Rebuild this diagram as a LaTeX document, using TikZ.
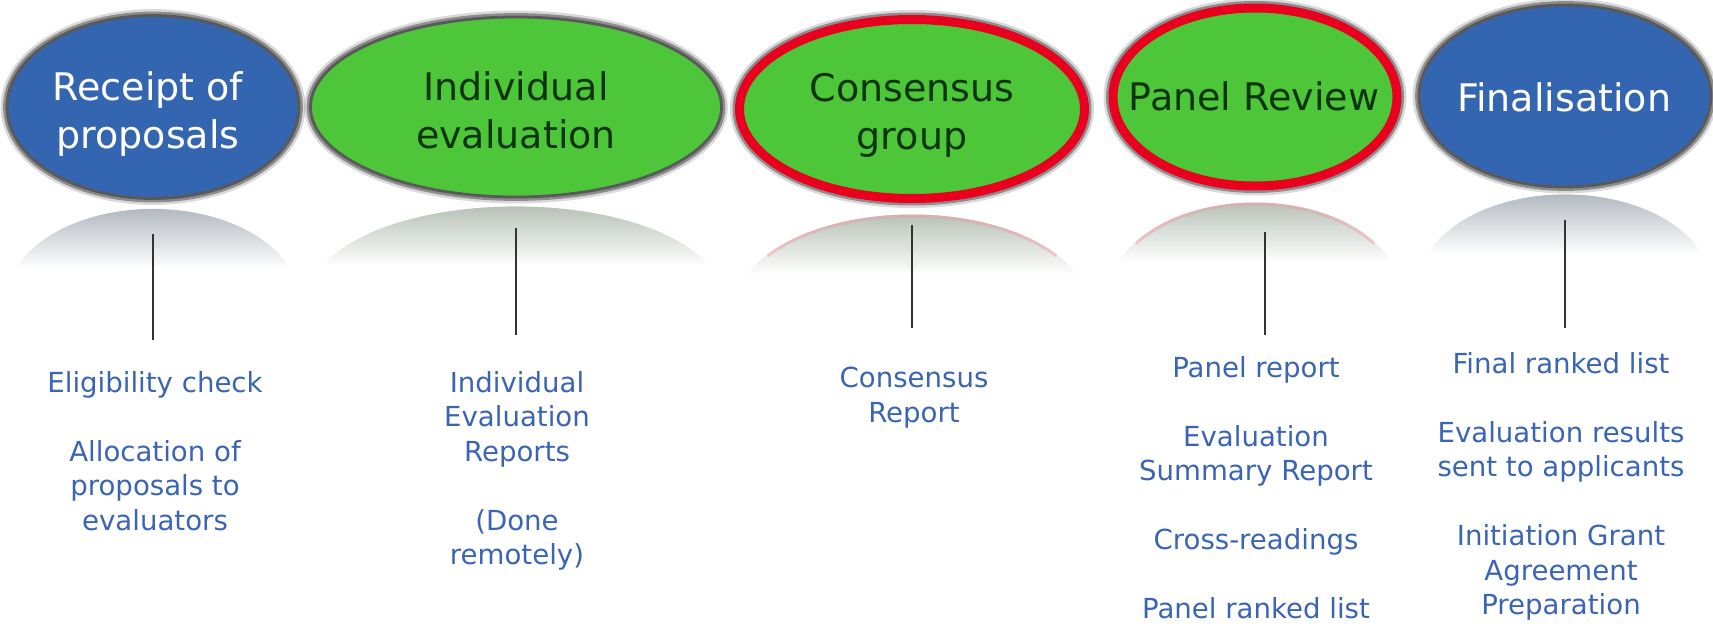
\documentclass[tikz,border=0pt]{standalone}
\usepackage{fontspec}
\setmainfont{DejaVu Sans}
\usetikzlibrary{shapes.geometric}

\definecolor{stepblue}{RGB}{51,101,176}
\definecolor{stepgreen}{RGB}{77,198,58}
\definecolor{ringred}{RGB}{232,0,30}
\definecolor{titlegreen}{RGB}{14,52,14}
\definecolor{notecol}{RGB}{58,100,180}
\definecolor{reflgrey}{RGB}{180,185,193}
\definecolor{reflgreen}{RGB}{184,194,184}

% mirrored dome under a stage: node, gap, x radius, y radius, top colour, rim
\newcommand{\mirrorshade}[6]{%
  \begin{scope}
    \clip ([xshift=-#3,yshift=-#2]#1.south) rectangle ([xshift=#3,yshift=-#2-30pt]#1.south);
    \clip ([yshift=-#2-#4]#1.south) ellipse (#3 and #4);
    \shade[top color=#5, bottom color=white]
      ([xshift=-#3,yshift=-#2]#1.south) rectangle ([xshift=#3,yshift=-#2-30pt]#1.south);
    \draw[#6] ([yshift=-#2-#4]#1.south) ++(35:#3 and #4)
      arc[start angle=35, end angle=145, x radius=#3, y radius=#4];
  \end{scope}}

\begin{document}
\begin{tikzpicture}[x=0.5pt, y=0.5pt,
  pill/.style={ellipse, inner sep=0pt},
  soft edge/.style={preaction={draw=black, line width=#1+5pt, opacity=.15},
    preaction={draw=black, line width=#1+2.5pt, opacity=.35}},
  blue pill/.style={pill, fill=stepblue, draw=black!65, line width=1.4pt, soft edge=1.4pt},
  green pill/.style={pill, fill=stepgreen, draw=black!65, line width=1.4pt, soft edge=1.4pt},
  red pill/.style={pill, fill=stepgreen, draw=ringred, line width=4.5pt, soft edge=4.5pt},
  title/.style={font=\fontsize{19}{24}\selectfont, align=center, inner sep=0pt},
  note/.style={text=notecol, font=\fontsize{13.8}{17.25}\selectfont, align=center,
    anchor=north, inner sep=0pt},
  rim/.style={draw=ringred!40, line width=3pt, opacity=.45},
  stem/.style={draw=black!80, line width=0.8pt}]
\useasboundingbox (0,0) rectangle (1713,-627);

\node[blue pill, minimum width=146pt, minimum height=91.5pt] (rec) at (153,-107) {};
\node[green pill, minimum width=205.5pt, minimum height=90pt] (ind) at (516,-107) {};
\node[red pill, minimum width=172.5pt, minimum height=89.5pt] (con) at (912,-109) {};
\node[red pill, minimum width=142pt, minimum height=89pt] (pan) at (1255,-97) {};
\node[blue pill, minimum width=146pt, minimum height=91pt] (fin) at (1565,-96) {};

\node[title, white] (rec-t) at (148,-114) {Receipt of\\proposals};
\node[title, titlegreen] (ind-t) at (516,-110) {Individual\\evaluation};
\node[title, titlegreen] (con-t) at (912,-115) {Consensus\\group};
\node[title, titlegreen] (pan-t) at (1254,-96) {Panel Review};
\node[title, white] (fin-t) at (1564,-97) {Finalisation};

\mirrorshade{rec}{4.5pt}{73pt}{45.75pt}{reflgrey}{draw=none}
\mirrorshade{ind}{4pt}{102.75pt}{45pt}{reflgreen}{draw=none}
\mirrorshade{con}{5.75pt}{88.5pt}{47pt}{reflgreen}{rim}
\mirrorshade{pan}{6pt}{73.25pt}{46.75pt}{reflgreen}{rim}
\mirrorshade{fin}{3pt}{73pt}{45.5pt}{reflgrey}{draw=none}

\node[note] (rec-txt) at (155,-371) {Eligibility check\\[17.25pt]Allocation of\\proposals to\\evaluators};
\node[note] (ind-txt) at (517,-371) {Individual\\Evaluation\\Reports\\[17.25pt](Done\\remotely)};
\node[note] (con-txt) at (914,-367) {Consensus\\Report};
\node[note] (pan-txt) at (1256,-356) {Panel report\\[17.25pt]Evaluation\\Summary Report\\[17.25pt]Cross-readings\\[17.25pt]Panel ranked list};
\node[note] (fin-txt) at (1561,-352) {Final ranked list\\[17.25pt]Evaluation results\\sent to applicants\\[17.25pt]Initiation Grant\\Agreement\\Preparation};

\draw[stem, shorten <=17pt, shorten >=15.5pt] (rec.south) -- (rec.south |- rec-txt.north);
\draw[stem, shorten <=15pt, shorten >=18pt] (ind.south) -- (ind.south |- ind-txt.north);
\draw[stem, shorten <=10.75pt, shorten >=19.5pt] (con.south) -- (con.south |- con-txt.north);
\draw[stem, shorten <=20.5pt, shorten >=10.5pt] ([xshift=5pt]pan.south) -- ([xshift=5pt]pan.south |- pan-txt.north);
\draw[stem, shorten <=16pt, shorten >=12pt] (fin.south) -- (fin.south |- fin-txt.north);
\end{tikzpicture}
\end{document}
